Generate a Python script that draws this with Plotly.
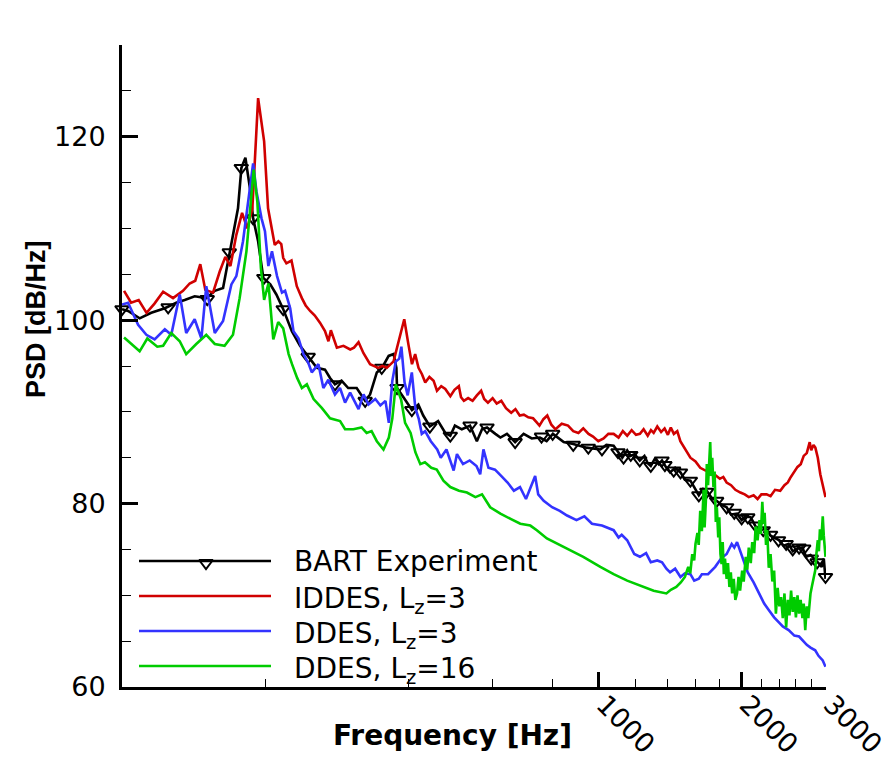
import plotly.graph_objects as go
import math

# ---------------- data ----------------
# BART experiment (line)
bart_f = [100, 103, 108.9, 115.2, 123, 130, 135.4, 142.1, 150.3, 156.6, 163, 168.4, 175.2, 178.1, 181.6,
          185.6, 188.5, 193.1, 198, 204.8, 210.9, 218, 227.3, 236.5, 246.3, 256.5, 266.8, 273.4, 280, 289,
          298.5, 311, 324, 331.8, 342.8, 351.4, 363, 371.7, 376.8, 378, 390.8, 406.3, 419, 429, 443, 461,
          477.3, 489, 500, 517, 538, 556, 570, 584, 608, 623, 643, 669, 697, 725, 754, 779, 803, 846, 886,
          945, 1010, 1040, 1077, 1100, 1123, 1150, 1170, 1192, 1222, 1250, 1270, 1289, 1315, 1340, 1361,
          1390, 1415, 1450, 1488, 1520, 1561, 1590, 1626, 1660, 1689, 1730, 1772, 1810, 1860, 1900, 1956,
          2000, 2040, 2090, 2140, 2200, 2250, 2300, 2348, 2400, 2450, 2510, 2560, 2620, 2683, 2730, 2790,
          2854, 2900, 2945, 2975, 3000]
bart_v = [101.2, 101.0, 100.2, 100.8, 101.3, 101.9, 102.2, 102.6, 102.4, 103.2, 103.5, 107.5, 112.2, 116.6, 117.7,
          114.4, 111.1, 108.6, 104.6, 103.9, 102.8, 101.2, 98.8, 97.2, 96.0, 94.8, 94.6, 93.7, 93.0, 93.4,
          92.6, 92.6, 91.2, 91.9, 94.3, 94.8, 96.1, 96.3, 94.8, 92.6, 91.5, 90.2, 90.8, 89.6, 88.4, 89.0,
          87.7, 87.4, 88.5, 88.1, 88.5, 86.8, 88.1, 88.3, 87.6, 87.2, 87.6, 86.7, 87.6, 87.1, 87.2, 86.8, 87.6, 86.7, 86.5,
          86.1, 85.9, 86.4, 86.3, 85.6, 85.0, 85.8, 85.2, 85.4, 84.7, 85.2, 84.4, 84.1, 84.9, 84.3, 84.7,
          83.9, 83.4, 83.9, 83.4, 82.6, 82.5, 81.8, 80.9, 81.6, 81.4, 80.6, 80.3, 79.9, 79.6, 78.8, 78.9,
          78.2, 78.6, 78.5, 77.5, 77.1, 77.3, 76.5, 76.3, 76.0, 75.4, 75.6, 74.8, 75.1, 75.2, 74.2, 74.4,
          73.8, 73.5, 73.1, 74.0, 71.8]

# BART experiment (symbols)
bart_mk_f = [100, 125, 151, 168, 178, 188.5, 198.5, 218, 246, 280, 324, 351, 378, 406, 443, 489, 538, 584,
             669, 760, 802, 886, 953, 1018, 1100, 1130, 1170, 1222, 1289, 1361, 1380, 1440, 1488, 1561, 1626,
             1690, 1772, 1860, 1930, 2000, 2060, 2140, 2220, 2300, 2390, 2480, 2560, 2640, 2700, 2800, 2880, 3000]
bart_mk_v = [101.2, 101.4, 102.3, 107.4, 116.6, 111.1, 104.6, 101.2, 96.0, 93.0, 91.2, 94.8, 92.6, 90.2, 88.4, 87.4, 88.5, 88.3,
             86.7, 87.3, 87.6, 86.4, 86.1, 85.9, 85.6, 85.0, 85.3, 84.7, 84.1, 84.7, 84.2, 83.6, 83.4, 82.5, 80.9,
             81.3, 80.3, 79.6, 79.0, 78.4, 78.5, 77.6, 77.1, 76.6, 76.0, 75.6, 75.0, 75.2, 75.1, 74.0, 73.6, 72.0]

# IDDES, Lz=3
iddes_f = [101, 104.5, 108.4, 112.6, 117, 122, 128, 134.3, 138.7, 142.5, 146, 149.6, 155.3, 160.4, 164.8,
           168.9, 173.8, 178.7, 183.3, 187.8, 193.1, 198.8, 202.6, 209.3, 213, 216, 218, 221.4, 226.9, 232.8,
           238.6, 243, 248.3, 254, 260.6, 266.8, 271.3, 274.5, 282.6, 291.7, 301.4, 307, 313.8, 321.4, 331.8,
           345.1, 352, 359.8, 371.7, 383.7, 391.4, 399.5, 406.3, 412.6, 419.3, 426.4, 433.2, 442, 451, 458.5,
           468, 477.3, 489.1, 499, 509.6, 515, 522.2, 533, 544.6, 556, 567.6, 576, 586.6, 600, 612, 625.7,
           640, 656.5, 670, 684, 697.8, 713, 729.6, 741, 752.5, 767, 781.5, 797, 813, 838, 864, 886, 908.5,
           930, 954, 975, 1000, 1026, 1050, 1077, 1103, 1126, 1150, 1175, 1200, 1223, 1245, 1270, 1290, 1307,
           1330, 1355, 1378, 1400, 1420, 1441, 1465, 1487, 1520, 1561, 1600, 1637, 1680, 1720, 1752, 1800,
           1830, 1860, 1900, 1940, 1988, 2030, 2070, 2119, 2160, 2200, 2256, 2300, 2350, 2410, 2460, 2500,
           2530, 2580, 2620, 2661, 2700, 2740, 2779, 2800, 2830, 2856, 2890, 2925, 2960, 3000]
iddes_v = [103.2, 101.9, 102.2, 100.8, 101.8, 103.1, 102.4, 103.2, 104.0, 104.3, 106.1, 103.3, 103.0, 105.3, 106.9,
           105.9, 109.3, 111.7, 110.0, 112.2, 124.2, 119.5, 112.2, 108.2, 108.6, 108.3, 106.8, 106.2, 106.5, 103.7,
           102.4, 101.6, 101.0, 100.5, 99.7, 98.8, 97.7, 98.9, 97.0, 97.2, 96.8, 97.0, 97.6, 96.4, 95.2,
           94.8, 95.0, 94.8, 95.5, 98.4, 100.1, 97.3, 95.2, 96.3, 94.8, 94.1, 93.2, 93.8, 93.4, 92.3,
           92.8, 92.5, 91.7, 92.4, 92.8, 91.6, 91.2, 91.5, 91.2, 91.8, 92.3, 91.4, 91.0, 91.5, 90.9, 91.2,
           90.4, 89.9, 90.3, 89.6, 89.7, 89.4, 89.3, 88.9, 88.5, 89.2, 89.6, 88.6, 88.1, 88.7, 88.5, 87.9, 87.7,
           88.2, 87.6, 87.3, 86.8, 87.1, 87.6, 87.6, 87.2, 87.9, 87.4, 88.0, 87.5, 87.6, 88.1, 87.4, 88.0, 87.7,
           88.4, 87.8, 88.2, 87.5, 88.3, 87.6, 87.9, 86.8, 86.0, 85.0, 84.6, 83.9, 83.6, 83.5, 83.2, 82.7,
           82.9, 82.3, 82.0, 81.5, 81.2, 81.0, 80.7, 80.9, 80.5, 81.0, 81.0, 80.8, 81.5, 81.4, 82.0, 82.3,
           82.8, 83.5, 84.0, 84.3, 85.2, 85.5, 86.7, 85.8, 86.4, 86.1, 85.0, 83.2, 82.0, 80.7]

# DDES, Lz=3
ddes3_f = [100, 103, 108.1, 112.5, 117.1, 123, 126.9, 132.2, 136.4, 142.1, 146.8, 150.3, 156.6, 163, 169.7,
           173.8, 179.5, 183.9, 188.5, 191.6, 196.3, 199.6, 202.9, 206.5, 211.6, 216.7, 220, 225.5, 229.1, 234.8,
           240.4, 246.3, 250.3, 258.5, 264.7, 271.2, 280, 286.9, 294, 301.3, 313.8, 321.5, 329.3, 340.3, 348.7,
           357.4, 363.3, 369.5, 375.7, 382, 386, 392, 398, 406, 413, 420, 426, 433, 445, 459, 467, 480, 497,
           505, 520, 537, 555, 565, 574, 588, 607, 626, 645, 665, 685, 705, 727, 737, 748, 768, 800, 830, 860,
           900, 935, 970, 1018, 1050, 1077, 1103, 1120, 1150, 1190, 1223, 1260, 1289, 1330, 1361, 1390, 1415,
           1450, 1488, 1520, 1561, 1590, 1626, 1650, 1700, 1760, 1810, 1860, 1906, 1930, 1956, 2020, 2060, 2119,
           2160, 2200, 2230, 2280, 2340, 2400, 2440, 2510, 2580, 2640, 2683, 2740, 2790, 2854, 2900, 2960, 3000]
ddes3_v = [101.7, 101.9, 99.5, 98.4, 97.9, 99.0, 98.4, 102.8, 98.6, 100.1, 98.0, 103.7, 98.6, 99.9, 103.9,
           104.8, 108.6, 112.6, 117.1, 114.0, 111.1, 109.7, 105.9, 107.5, 104.8, 103.0, 103.2, 101.3, 98.8, 98.0,
           96.3, 95.3, 94.3, 95.2, 92.6, 93.5, 91.9, 92.6, 91.0, 92.1, 90.3, 91.9, 90.8, 91.4, 90.7,
           91.2, 88.8, 93.4, 95.5, 95.8, 97.1, 93.2, 91.8, 94.3, 90.4, 89.2, 87.6, 87.9, 86.8, 85.9, 85.0, 85.9, 83.6,
           85.4, 84.3, 84.7, 84.1, 83.2, 85.9, 83.9, 83.7, 83.0, 82.3, 81.4, 81.8, 80.5, 82.3, 83.0, 81.0, 80.3, 79.6, 79.2, 78.7,
           78.2, 78.6, 77.8, 77.6, 77.3, 77.1, 76.3, 76.6, 76.0, 74.5, 74.2, 74.6, 73.6, 73.8, 73.6, 72.9, 72.5,
           72.9, 72.0, 72.4, 72.3, 71.6, 71.8, 72.3, 72.3, 73.1, 74.0, 74.5, 75.6, 75.2, 75.8, 73.6, 72.5, 71.4,
           70.6, 69.8, 69.1, 68.4, 67.6, 67.0, 66.6, 66.2, 65.6, 65.5, 65.1, 64.6, 64.3, 64.0, 63.4, 62.9, 62.2]

# DDES, Lz=16
ddes16_f = [101, 104.5, 108.9, 113, 118.6, 122, 126.9, 132.2, 136.4, 143.2, 150.3, 156.6, 164.2, 171, 176.6,
            182.5, 186.1, 189, 192.4, 195.7, 198.8, 203, 207.8, 212.8, 218, 223.8, 227.5, 233.2, 238.6, 244.4,
            252.5, 262.9, 273.4, 287, 294, 306, 318.4, 326.3, 334.2, 342.8, 354, 363.3, 369.5, 375.7, 385.6,
            393, 403.6, 413, 423, 432.5, 446, 458, 473, 489, 510, 530, 552, 570, 593, 623, 656, 686, 720, 743,
            780, 860, 930, 1010, 1077, 1150, 1223, 1307, 1390, 1420, 1458, 1490, 1520, 1545, 1560, 1575, 1590,
            1600, 1615, 1625, 1637, 1650, 1664, 1672, 1682, 1690, 1700, 1710, 1718, 1726, 1735, 1745, 1755,
            1765, 1774, 1786, 1795, 1805, 1815, 1825, 1835, 1845, 1860, 1872, 1885, 1898, 1910, 1925, 1940,
            1956, 1970, 1985, 2005, 2020, 2040, 2055, 2070, 2090, 2105, 2125, 2140, 2160, 2180, 2195, 2210,
            2222, 2235, 2250, 2263, 2280, 2300, 2320, 2340, 2360, 2380, 2400, 2420, 2440, 2460, 2480, 2500,
            2520, 2540, 2560, 2580, 2600, 2620, 2640, 2660, 2683, 2700, 2720, 2740, 2760, 2790, 2810, 2830,
            2854, 2870, 2890, 2905, 2920, 2940, 2960, 2975, 2990, 3000]
ddes16_v = [98.1, 97.4, 96.6, 98.0, 97.1, 97.2, 98.6, 97.7, 96.3, 97.4, 98.4, 97.4, 97.2, 98.4, 102.4,
            107.5, 112.2, 116.4, 112.9, 105.7, 102.2, 104.0, 97.9, 99.8, 99.1, 96.3, 95.2, 93.7, 92.6, 93.0,
            91.4, 90.4, 89.3, 89.0, 88.1, 88.1, 88.3, 87.7, 87.9, 86.8, 85.9, 87.2, 89.3, 93.0, 91.3,
            88.8, 87.7, 85.6, 84.3, 84.5, 83.9, 83.7, 82.5, 81.8, 81.4, 81.2, 80.7, 81.0, 79.6, 78.9, 78.3, 77.8, 77.6, 77.1,
            76.2, 75.1, 74.2, 73.1, 72.3, 71.6, 71.1, 70.5, 70.2, 70.6, 70.9, 71.4, 72.0, 73.1, 72.4, 74.5, 73.8,
            75.6, 76.8, 75.5, 79.2, 77.0, 81.5, 77.4, 80.2, 84.3, 82.0, 85.5, 86.7, 83.0, 85.0, 81.8, 83.5,
            78.0, 79.6, 76.3, 78.5, 74.5, 73.4, 75.8, 72.3, 74.0, 71.8, 73.5, 70.9, 72.5, 70.2, 71.8, 69.5,
            70.2, 72.0, 70.5, 72.7, 71.5, 74.2, 72.8, 75.2, 73.5, 75.8, 74.6, 77.5, 76.0, 78.2, 76.7, 80.2,
            77.8, 79.0, 75.5, 77.1, 73.0, 74.5, 71.5, 72.7, 68.0, 70.8, 68.8, 69.8, 67.5, 70.2, 66.5, 69.5,
            67.8, 70.5, 68.2, 69.8, 67.6, 70.0, 68.0, 69.5, 67.5, 69.1, 66.2, 68.8, 67.5, 70.2, 71.0, 72.0,
            72.7, 74.5, 76.0, 74.8, 77.2, 76.0, 78.6, 76.5, 75.5, 74.2]

x_tickvals = [1000, 2000, 3000]
x_ticktext = ["1000", "2000", "3000"]
x_minor = [200, 400, 600, 800, 1200, 1400, 1600, 1800, 2200, 2400, 2600, 2800]
y_tickvals = [60, 80, 100, 120]
y_minor = [65, 70, 75, 85, 90, 95, 105, 110, 115, 125, 130]

legend_labels = ["BART Experiment", "IDDES, L<sub>z</sub>=3", "DDES, L<sub>z</sub>=3", "DDES, L<sub>z</sub>=16"]
legend_colors = ["#000000", "#d00000", "#3333ff", "#00cc00"]

# ---------------- figure ----------------
W, H = 887, 761
ML, MR, MT, MB = 122, 61, 45, 74
PW, PH = W - ML - MR, H - MT - MB
LW = 2.6

fig = go.Figure()
fig.add_trace(go.Scatter(x=bart_f, y=bart_v, mode="lines", line=dict(color=legend_colors[0], width=LW)))
fig.add_trace(go.Scatter(x=bart_mk_f, y=bart_mk_v, mode="markers", cliponaxis=False,
                         marker=dict(symbol="triangle-down-open", size=12, color="black", line=dict(width=2))))
fig.add_trace(go.Scatter(x=iddes_f, y=iddes_v, mode="lines", line=dict(color=legend_colors[1], width=LW)))
fig.add_trace(go.Scatter(x=ddes3_f, y=ddes3_v, mode="lines", line=dict(color=legend_colors[2], width=LW)))
fig.add_trace(go.Scatter(x=ddes16_f, y=ddes16_v, mode="lines", line=dict(color=legend_colors[3], width=LW)))


def px2paper_x(px):
    return (px - ML) / PW


def py2paper_y(py):
    return (MT + PH - py) / PH


# custom legend (paper coordinates)
leg_rows = [561, 596, 631, 666]
for lab, col, row in zip(legend_labels, legend_colors, leg_rows):
    yp = py2paper_y(row)
    fig.add_shape(type="line", xref="paper", yref="paper",
                  x0=px2paper_x(139), x1=px2paper_x(271), y0=yp, y1=yp,
                  line=dict(color=col, width=LW))
    fig.add_annotation(xref="paper", yref="paper", x=px2paper_x(292), y=yp,
                       xanchor="left", yanchor="middle", showarrow=False,
                       text=lab, font=dict(family="DejaVu Sans", size=28, color="black"),
                       yshift=(0 if "sub" not in lab else -4))

# legend marker on overlay axes
fig.add_trace(go.Scatter(x=[px2paper_x(206)], y=[py2paper_y(563)], mode="markers", xaxis="x2", yaxis="y2",
                         marker=dict(symbol="triangle-down-open", size=12, color="black", line=dict(width=2))))

# axis titles
fig.add_annotation(xref="paper", yref="paper", x=px2paper_x(452), y=py2paper_y(735),
                   text="<b>Frequency [Hz]</b>", showarrow=False, xanchor="center", yanchor="middle",
                   font=dict(family="DejaVu Sans", size=28, color="black"))
fig.add_annotation(xref="paper", yref="paper", x=px2paper_x(36), y=py2paper_y(319),
                   text="<b>PSD [dB/Hz]</b>", showarrow=False, xanchor="center", yanchor="middle",
                   textangle=-90, font=dict(family="Liberation Sans", size=27, color="black"))

fig.update_layout(
    width=W, height=H, margin=dict(l=ML, r=MR, t=MT, b=MB, autoexpand=False),
    paper_bgcolor="white", plot_bgcolor="white", showlegend=False,
    xaxis=dict(type="log", range=[2, math.log10(3000) + 0.001], showgrid=False, zeroline=False, automargin=False,
               showline=True, linecolor="black", linewidth=3, mirror=False,
               tickvals=x_tickvals, ticktext=x_ticktext, ticks="inside", ticklen=15, tickwidth=3,
               tickcolor="black", tickangle=45, ticklabelstandoff=-12, ticklabelshift=6,
               ticklabeloverflow="allow",
               tickfont=dict(family="DejaVu Sans", size=27, color="black"),
               minor=dict(tickvals=x_minor, ticks="inside", ticklen=8, tickwidth=1.2, tickcolor="black",
                          showgrid=False)),
    yaxis=dict(range=[60, 130], showgrid=False, zeroline=False, automargin=False,
               showline=True, linecolor="black", linewidth=3, mirror=False,
               tickvals=y_tickvals, ticks="inside", ticklen=16, tickwidth=3, tickcolor="black",
               ticklabelstandoff=8, ticklabeloverflow="allow",
               tickfont=dict(family="DejaVu Sans", size=27, color="black"),
               minor=dict(tickvals=y_minor, ticks="inside", ticklen=9, tickwidth=1.2, tickcolor="black",
                          showgrid=False)),
    xaxis2=dict(overlaying="x", range=[0, 1], visible=False),
    yaxis2=dict(overlaying="y", range=[0, 1], visible=False),
)

fig.write_html("out.html")
